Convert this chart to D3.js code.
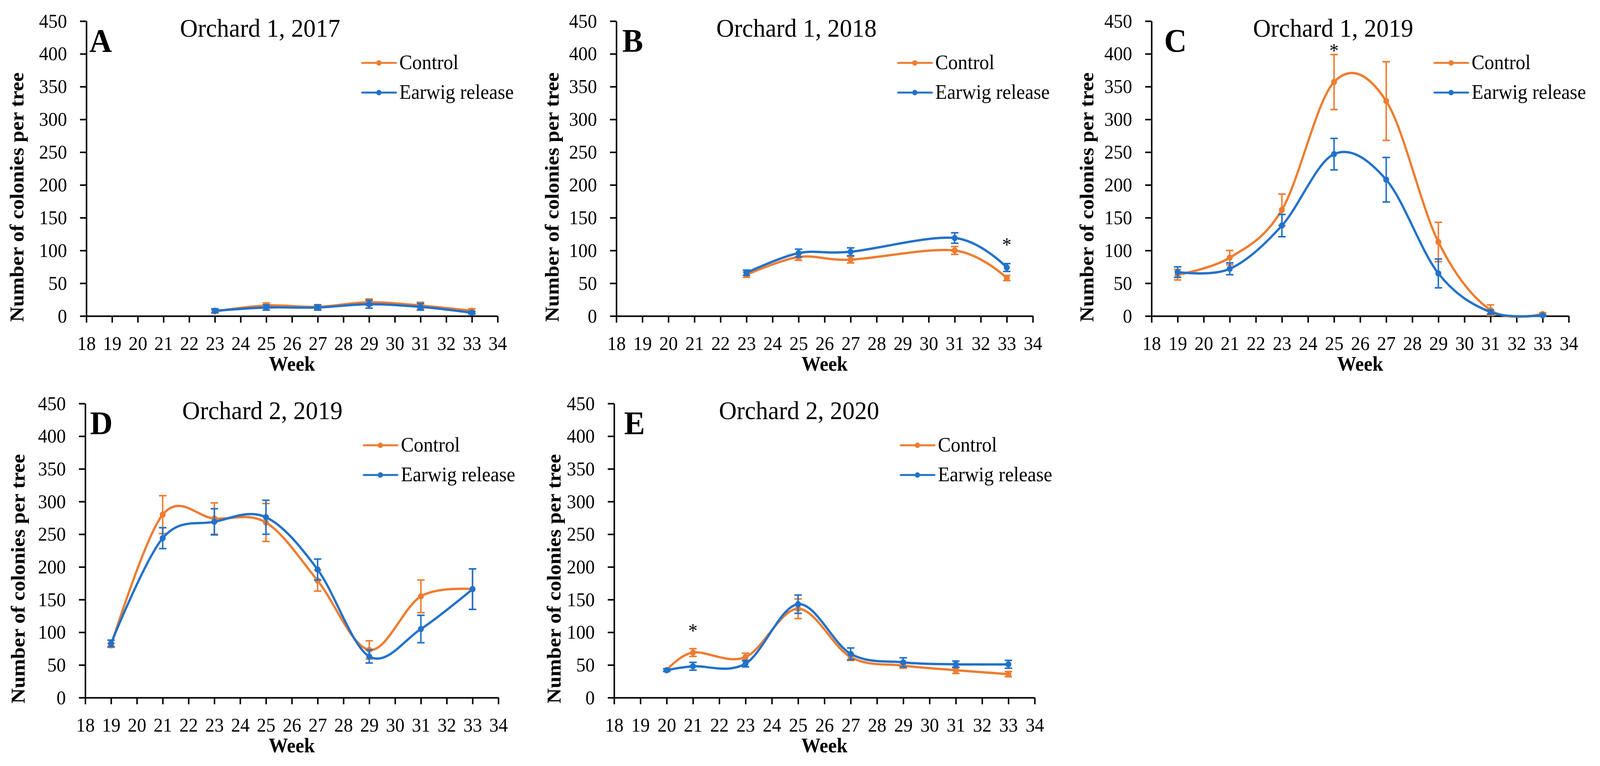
<!DOCTYPE html>
<html>
<head>
<meta charset="utf-8">
<script src="https://cdnjs.cloudflare.com/ajax/libs/d3/7.8.5/d3.min.js"></script>
<style>
  html, body { margin: 0; padding: 0; background: #fff; overflow: hidden; }
  #chart svg { display: block; width: 100vw; height: 100vh; }
  svg text { font-family: "Liberation Serif", "Times New Roman", serif; fill: #000; }
</style>
</head>
<body>
<div id="chart"></div>
<script>
/*
 * Data section start
 */
var seriesNames = ["Control", "Earwig release"]
  , xTicks = d3.range(18, 35)        // week 18 .. 34
  , yTicks = d3.range(0, 451, 50)    // 0 .. 450

// Orchard 1, 2017
var weeksA = [23, 25, 27, 29, 31, 33]
  , controlA = [7, 16, 14, 21, 16, 8]
  , controlErrA = [2, 4, 3, 5, 5, 3]
  , earwigA = [8, 13, 13, 18, 14, 5]
  , earwigErrA = [3, 4, 4, 6, 5, 2]
  , starsA = []

// Orchard 1, 2018
var weeksB = [23, 25, 27, 31, 33]
  , controlB = [63, 90, 86, 100, 58]
  , controlErrB = [4, 5, 5, 6, 4]
  , earwigB = [66, 96, 98, 119, 74]
  , earwigErrB = [4, 6, 6, 8, 6]
  , starsB = [33]

// Orchard 1, 2019
var weeksC = [19, 21, 23, 25, 27, 29, 31, 33]
  , controlC = [63, 89, 162, 357, 328, 113, 9, 3]
  , controlErrC = [8, 11, 24, 42, 60, 30, 8, 2]
  , earwigC = [67, 72, 138, 247, 208, 65, 6, 1]
  , earwigErrC = [8, 9, 17, 24, 34, 22, 3, 1]
  , starsC = [25]

// Orchard 2, 2019
var weeksD = [19, 21, 23, 25, 27, 29, 31, 33]
  , controlD = [80, 280, 274, 268, 179, 73, 155, 166]
  , controlErrD = [3, 29, 24, 29, 16, 14, 25, 31]
  , earwigD = [83, 244, 269, 276, 196, 63, 105, 166]
  , earwigErrD = [5, 16, 20, 26, 16, 10, 21, 31]
  , starsD = []

// Orchard 2, 2020
var weeksE = [20, 21, 23, 25, 27, 29, 31, 33]
  , controlE = [42, 69, 62, 136, 62, 49, 42, 36]
  , controlErrE = [2, 6, 6, 15, 5, 4, 5, 4]
  , earwigE = [42, 48, 52, 143, 67, 54, 51, 51]
  , earwigErrE = [2, 6, 5, 14, 9, 7, 5, 6]
  , starsE = [21]
/*
 * Data section end
 */

var W = 4299, H = 1961
  , colors = ["#ED7D31", "#2272C9"]
  , rows = [{ top: 54, bottom: 809 }, { top: 1033, bottom: 1786 }]

// layout of each panel (pixels)
var panels = [
  { letter: "A", title: "Orchard 1, 2017", row: 0, x0: 232, x1: 1337, letterX: 240, titleCx: 699, legendX: 973, ylabOff: 187, starV: 0
  , weeks: weeksA, values: [controlA, earwigA], errs: [controlErrA, earwigErrA], stars: starsA }
, { letter: "B", title: "Orchard 1, 2018", row: 0, x0: 1656, x1: 2775, letterX: 1672, titleCx: 2140, legendX: 2413, ylabOff: 173, starV: 112
  , weeks: weeksB, values: [controlB, earwigB], errs: [controlErrB, earwigErrB], stars: starsB }
, { letter: "C", title: "Orchard 1, 2019", row: 0, x0: 3094, x1: 4215, letterX: 3128, titleCx: 3582, legendX: 3854, ylabOff: 174, starV: 408
  , weeks: weeksC, values: [controlC, earwigC], errs: [controlErrC, earwigErrC], stars: starsC }
, { letter: "D", title: "Orchard 2, 2019", row: 1, x0: 229, x1: 1339, letterX: 242, titleCx: 705, legendX: 977, ylabOff: 181, starV: 0
  , weeks: weeksD, values: [controlD, earwigD], errs: [controlErrD, earwigErrD], stars: starsD }
, { letter: "E", title: "Orchard 2, 2020", row: 1, x0: 1650, x1: 2780, letterX: 1677, titleCx: 2147, legendX: 2420, ylabOff: 162, starV: 106
  , weeks: weeksE, values: [controlE, earwigE], errs: [controlErrE, earwigErrE], stars: starsE }
]

// the svg fills the whole window, drawn in 4299 x 1961 units
var svg = d3.select("#chart")
  .append("svg")
  .attr("viewBox", "0 0 " + W + " " + H)
  .attr("preserveAspectRatio", "none")

svg.append("rect").attr("width", W).attr("height", H).attr("fill", "#fff")

panels.forEach(function (p) {
  var r = rows[p.row]
    , g = svg.append("g")
    , x = d3.scaleLinear().domain([18, 34]).range([p.x0, p.x1])
    , y = d3.scaleLinear().domain([0, 450]).range([r.bottom, r.top])

  // axes
  g.append("g")
    .attr("transform", "translate(" + p.x0 + ",0)")
    .call(d3.axisLeft(y).tickValues(yTicks).tickSize(17).tickSizeOuter(0).tickPadding(35))
  g.append("g")
    .attr("transform", "translate(0," + r.bottom + ")")
    .call(d3.axisBottom(x).tickValues(xTicks).tickSize(17).tickSizeOuter(0).tickPadding(35))

  g.selectAll(".domain, .tick line")
    .attr("stroke", "#000")
    .attr("stroke-width", 4)
  g.selectAll(".tick text")
    .attr("font-size", 50)
    .attr("font-family", "Liberation Serif, Times New Roman, serif")
    .attr("fill", "#000")

  // axis titles
  g.append("text")
    .attr("transform", "translate(" + (p.x0 - p.ylabOff + 18) + "," + (r.bottom + 15) + ") rotate(-90)")
    .attr("font-size", 54)
    .attr("font-weight", "bold")
    .text("Number of colonies per tree")
  g.append("text")
    .attr("x", (p.x0 + p.x1) / 2)
    .attr("y", r.bottom + 140)
    .attr("text-anchor", "middle")
    .attr("font-size", 52)
    .attr("font-weight", "bold")
    .text("Week")

  // panel letter and title
  g.append("text")
    .attr("x", p.letterX)
    .attr("y", r.top + 79)
    .attr("font-size", 84)
    .attr("font-weight", "bold")
    .text(p.letter)
  g.append("text")
    .attr("x", p.titleCx)
    .attr("y", r.top + 40)
    .attr("text-anchor", "middle")
    .attr("font-size", 66)
    .text(p.title)

  // series
  var line = d3.line()
    .x(function (d) { return x(d.week) })
    .y(function (d) { return y(d.value) })
    .curve(d3.curveCardinal.tension(0))

  p.values.forEach(function (vals, s) {
    var pts = p.weeks.map(function (w, i) {
      return { week: w, value: vals[i], err: p.errs[s][i] }
    })
    var sg = g.append("g")
      .attr("stroke", colors[s])
      .attr("fill", colors[s])

    sg.append("path")
      .datum(pts)
      .attr("d", line)
      .attr("fill", "none")
      .attr("stroke-width", 6)
      .attr("stroke-linejoin", "round")

    // error bars
    var eb = sg.selectAll(".eb")
        .data(pts)
      .enter().append("g")
        .attr("class", "eb")
        .attr("stroke-width", 4)
    eb.append("line")
      .attr("x1", function (d) { return x(d.week) })
      .attr("x2", function (d) { return x(d.week) })
      .attr("y1", function (d) { return y(d.value - d.err) })
      .attr("y2", function (d) { return y(d.value + d.err) })
    eb.append("line")
      .attr("x1", function (d) { return x(d.week) - 10 })
      .attr("x2", function (d) { return x(d.week) + 10 })
      .attr("y1", function (d) { return y(d.value + d.err) })
      .attr("y2", function (d) { return y(d.value + d.err) })
    eb.append("line")
      .attr("x1", function (d) { return x(d.week) - 10 })
      .attr("x2", function (d) { return x(d.week) + 10 })
      .attr("y1", function (d) { return y(Math.max(0, d.value - d.err)) })
      .attr("y2", function (d) { return y(Math.max(0, d.value - d.err)) })

    sg.selectAll("circle")
        .data(pts)
      .enter().append("circle")
        .attr("cx", function (d) { return x(d.week) })
        .attr("cy", function (d) { return y(d.value) })
        .attr("r", 8)
        .attr("stroke", "none")
  })

  // significance stars
  g.selectAll(".star")
      .data(p.stars)
    .enter().append("text")
      .attr("class", "star")
      .attr("x", function (d) { return x(d) })
      .attr("y", y(p.starV) + 22)
      .attr("text-anchor", "middle")
      .attr("font-size", 50)
      .text("*")

  // legend
  var lg = g.append("g")
  seriesNames.forEach(function (name, s) {
    var ly = r.top + 107 + s * 76
    lg.append("line")
      .attr("x1", p.legendX).attr("x2", p.legendX + 91)
      .attr("y1", ly).attr("y2", ly)
      .attr("stroke", colors[s])
      .attr("stroke-width", 5)
      .attr("stroke-linecap", "round")
    lg.append("circle")
      .attr("cx", p.legendX + 45).attr("cy", ly)
      .attr("r", 7)
      .attr("fill", colors[s])
    lg.append("text")
      .attr("x", p.legendX + 100)
      .attr("y", ly + 16)
      .attr("font-size", 52)
      .text(name)
  })
})
</script>
</body>
</html>
